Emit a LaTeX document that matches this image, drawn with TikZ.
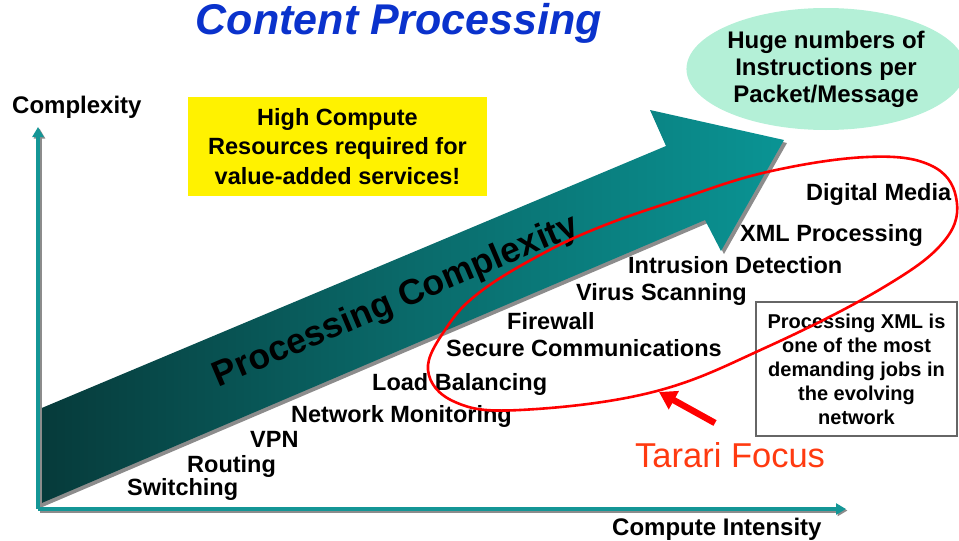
\documentclass[tikz,border=0pt]{standalone}
\usepackage{fontspec}
\setmainfont{Liberation Sans}
\usetikzlibrary{arrows.meta,shapes.geometric}
\definecolor{axisTeal}{HTML}{149696}
\definecolor{arrowDark}{HTML}{063A3A}
\definecolor{arrowMid}{HTML}{0A6A6A}
\definecolor{arrowTeal}{HTML}{0A9494}
\definecolor{titleBlue}{HTML}{0A32CC}
\definecolor{bubbleFill}{HTML}{B4F0D7}
\definecolor{tarariRed}{HTML}{FF3A10}
\definecolor{shadowGray}{HTML}{8C8C8C}

\begin{document}
\begin{tikzpicture}
[x=1pt,y=-1pt,
  axisDecorate/.style={line width=4pt,axisTeal,-{Triangle[length=10pt,width=11pt]}},
  axisShadow/.style={line width=4pt,shadowGray,-{Triangle[length=10pt,width=11pt]}},
  labelDecorate/.style={anchor=base west,inner sep=0pt,font=\fontsize{23.5}{28}\selectfont\bfseries},
  noteDecorate/.style={align=center,inner sep=0pt,font=\fontsize{23.5}{29.5}\selectfont\bfseries},
  focusLine/.style={red,line width=2.6pt},
  focusArrow/.style={red,line width=6.5pt,-{Triangle[length=17pt,width=20pt]}}]
\useasboundingbox (0,0) rectangle (959,541);

%% title and axis names
\node (title) at (399,23) {\fontsize{43}{48}\selectfont\bfseries\itshape\color{titleBlue}Content Processing};
\node (ylabel) [anchor=base west,inner sep=0pt,font=\fontsize{24}{28}\selectfont\bfseries] at (12,113) {Complexity};
\node (xlabel) [anchor=base west,inner sep=0pt,font=\fontsize{24}{28}\selectfont\bfseries] at (612,535) {Compute Intensity};

%% big arrow
\fill[shadowGray] (40,413) -- (669,149) -- (653,113) -- (787,143) -- (724,254) -- (708,223) -- (40,508) -- cycle;
\shade[left color=arrowDark,right color=arrowTeal,middle color=arrowMid]
  (37,410) -- (666,146) -- (650,110) -- (784,140) -- (721,251) -- (705,220) -- (37,505) -- cycle;
\node (bigarrowtext) [rotate=23,inner sep=0pt,font=\fontsize{35.5}{40}\selectfont\bfseries] at (396,302)
  {Processing Complexity};

%% axes
\coordinate (origin) at (38,509);
\coordinate (ytip) at (38,127);
\coordinate (xtip) at (846,509);
\draw[axisShadow] ([shift={(1.5,1.5)}]origin) -- ([shift={(1.5,1.5)}]ytip);
\draw[axisShadow] ([shift={(1.5,1.5)}]origin) -- ([shift={(1.5,1.5)}]xtip);
\draw[axisDecorate] (origin) -- (ytip);
\draw[axisDecorate] (origin) -- (xtip);

%% yellow note
\node (compute) [noteDecorate,fill=yellow,minimum width=299pt,minimum height=99pt] at (337.5,146.5)
  {High Compute\\Resources required for\\value-added services!};

%% bubble
\node (bubble) [ellipse,fill=bubbleFill,minimum width=262pt,minimum height=122pt,align=center,
  inner sep=0pt,font=\fontsize{24}{27}\selectfont\bfseries] at (826,69)
  {Huge numbers of\\Instructions per\\Packet/Message};

%% applications
\foreach \lblname/\x/\y/\lbltext in {
  switching/127/495/Switching, routing/187/472/Routing, vpn/250/447/VPN,
  monitoring/291/422/Network Monitoring, balancing/372/390/Load Balancing,
  secure/446/356/Secure Communications, firewall/507/329/Firewall,
  virus/576/300/Virus Scanning, intrusion/628/273/Intrusion Detection,
  xml/740/241/XML Processing, media/806/200/Digital Media}
{
  \node (\lblname) [labelDecorate] at (\x,\y) {\lbltext};
}

%% xml note box
\node (xmlnote) [draw=black!60,line width=1.2pt,fill=white,minimum width=201pt,minimum height=134pt,
  align=center,inner sep=0pt,font=\fontsize{20}{24}\selectfont\bfseries] at (856.5,369)
  {Processing XML is\\one of the most\\demanding jobs in\\the evolving\\network};

%% tarari focus
\draw[focusLine] plot[smooth cycle,tension=0.65] coordinates {
  (428,370) (447,327) (480,292) (540,255) (600,227) (677,200) (767,172) (867,157)
  (930,165) (956,197) (945,240) (884,287) (767,347) (653,392) (520,410) (455,402)};
\node (tarari) [anchor=base west,inner sep=0pt,font=\fontsize{34.5}{38}\selectfont,text=tarariRed] at (635,467) {Tarari Focus};
\coordinate (focustail) at (715,423);
\coordinate (focustip) at (659,392);
\draw[focusArrow] (focustail) -- (focustip);
\end{tikzpicture}
\end{document}
